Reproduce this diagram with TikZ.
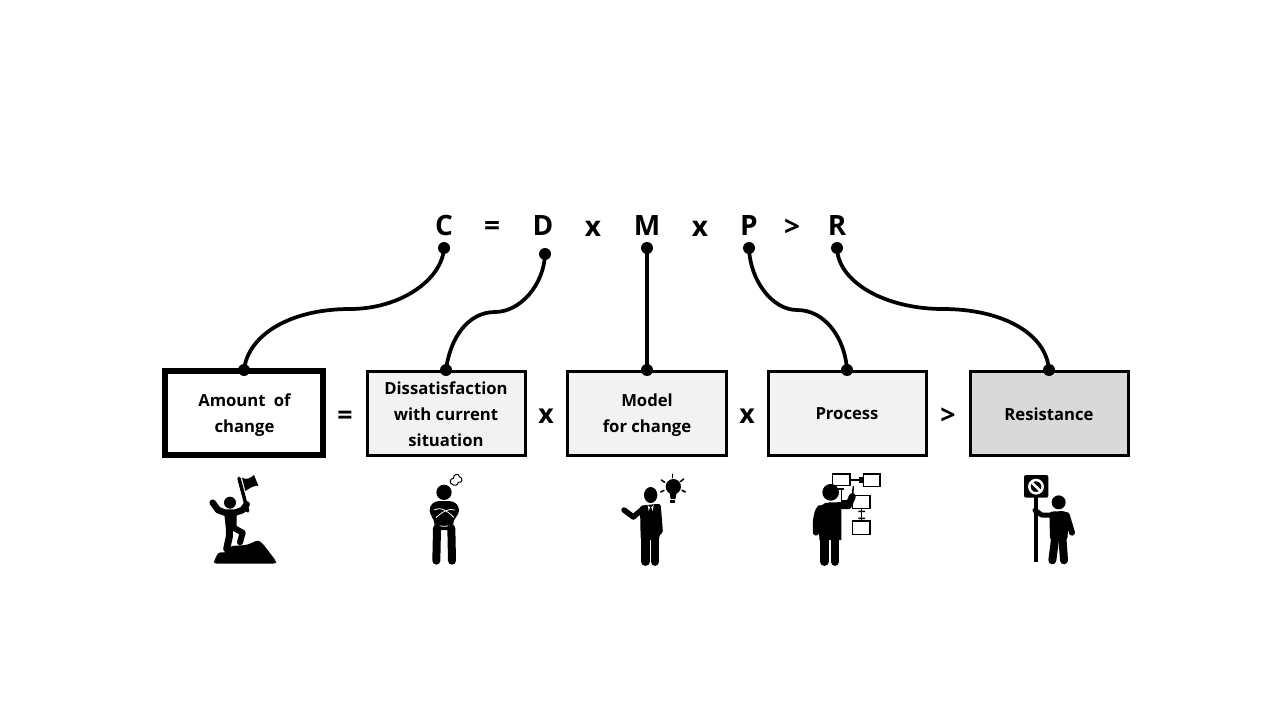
\documentclass[tikz,border=0pt]{standalone}
\usepackage{fontspec}
\setmainfont{Open Sans}
\begin{document}
\begin{tikzpicture}[x=0.75pt,y=-0.75pt,
  eqsym/.style={font=\fontsize{21}{24}\selectfont\bfseries,inner sep=0pt},
  opsym/.style={font=\fontsize{20}{24}\selectfont\bfseries,inner sep=0pt},
  lab/.style={font=\fontsize{12.5}{19.5}\selectfont\bfseries,align=center,inner sep=0pt},
  boxn/.style={draw=black,line width=2.3pt,minimum width=119pt,minimum height=63pt,inner sep=0pt,anchor=center},
  dotn/.style={circle,fill=black,inner sep=0pt,minimum size=9pt},
  conn/.style={line width=2.8pt,line cap=round},
  blk/.style={line width=#1*0.75pt,line cap=round,line join=round},
  blk/.default=7,
  ol/.style={draw=black,line width=0.9pt,fill=white}]
\useasboundingbox (0,0) rectangle (1280,720);
\fill[white] (0,0) rectangle (1280,720);
% boxes
\node[boxn,line width=4.5pt,fill=white,minimum width=118.5pt] (bA) at (244,413) {};
\node[boxn,fill=black!5] (bD) at (446.5,413.5) {};
\node[boxn,fill=black!5] (bM) at (647,413.5) {};
\node[boxn,fill=black!5] (bP) at (847.5,413.5) {};
\node[boxn,fill=black!15] (bR) at (1049.5,413.5) {};
\node[lab] (tA) at (244.5,415) {Amount\hspace{3pt} of\\change};
\node[lab] (tD) at (446,414) {Dissatisfaction\\with current\\situation};
\node[lab] (tM) at (647,415) {Model\\for change};
\node[lab] (tP) at (847,414) {Process};
\node[lab] (tR) at (1049,414) {Resistance};
% top formula
\node[eqsym] (C) at (444,225.5) {C};
\node[eqsym] (eq) at (492,229) {=};
\node[eqsym] (D) at (543,225.5) {D};
\node[eqsym] (x1) at (593,228.5) {x};
\node[eqsym] (M) at (647,225.5) {M};
\node[eqsym] (x2) at (700,228.5) {x};
\node[eqsym] (P) at (749,225.5) {P};
\node[eqsym] (gt) at (792,228) {>};
\node[eqsym] (R) at (837,225.5) {R};
% operators between boxes
\node[opsym] (o1) at (345,418) {=};
\node[opsym] (o2) at (546,416) {x};
\node[opsym] (o3) at (747,416) {x};
\node[opsym] (o4) at (948,416) {>};
% dots
\node[dotn] (dC) at (444,248) {};
\node[dotn] (dD) at (545,254) {};
\node[dotn] (dM) at (647,248) {};
\node[dotn] (dP) at (749,248) {};
\node[dotn] (dR) at (837,248) {};
\node[dotn] (dA) at (244,370) {};
\node[dotn] (dB) at (446,370) {};
\node[dotn] (dN) at (647,370) {};
\node[dotn] (dQ) at (847,370) {};
\node[dotn] (dS) at (1049,370) {};
% connectors
\draw[conn] (dC.center) .. controls (442,280) and (400,309) .. (350,309) .. controls (290,309) and (248,335) .. (dA.center);
\draw[conn] (dD.center) .. controls (544,285) and (520,312) .. (495,312) .. controls (468,312) and (450,338) .. (dB.center);
\draw[conn] (dM.center) -- (dN.center);
\draw[conn] (dP.center) .. controls (750,280) and (772,310) .. (797,310) .. controls (825,310) and (845,338) .. (dQ.center);
\draw[conn] (dR.center) .. controls (838,282) and (885,309) .. (943,309) .. controls (1000,309) and (1046,332) .. (dS.center);
% ---- icon 1: climber with flag
\begin{scope}[shift={(190,465)},scale=1/3]
 \fill[rounded corners=2pt] (72,296) -- (72,288) -- (85,262) -- (112,262) -- (122,243) -- (170,240) -- (205,225) -- (220,238) -- (258,288) -- (258,296) -- cycle;
 \fill (120,113) circle (18);
 \draw[blk=3.5] (147,40) -- (173,138);
 \fill (156,38) .. controls (170,46) and (180,40) .. (192,30) -- (205,62) .. controls (190,62) and (178,70) .. (166,78) -- cycle;
 \draw[blk=6.5] (68,113) -- (84,135) -- (105,143) -- (135,143) -- (158,135) -- (170,118);
 \fill[rounded corners=2pt] (102,138) -- (140,138) -- (140,195) -- (108,195) -- cycle;
 \draw[blk=7] (118,190) -- (118,215) -- (110,252);
 \draw[blk=6] (134,190) -- (158,203) -- (150,232);
\end{scope}
% ---- icon 2: man with arms crossed
\begin{scope}[shift={(190,465)},scale=1/3]
 \fill (762,82) circle (23);
 \fill[rounded corners=3pt] (735,108) -- (790,108) -- (808,125) -- (806,150) -- (790,163) -- (790,195) -- (733,195) -- (733,163) -- (720,150) -- (718,125) -- cycle;
 \draw[white,line width=0.6pt] (732,135) .. controls (750,125) and (770,135) .. (792,158);
 \draw[white,line width=0.6pt] (795,135) .. controls (775,128) and (755,142) .. (738,158);
 \draw[white,line width=0.6pt] (735,180) .. controls (755,185) and (772,185) .. (790,180);
 \draw[blk=8] (741,190) -- (739,287);
 \draw[blk=8] (784,190) -- (786,287);
 \draw[ol,line width=0.75pt] (790,60) .. controls (775,55) and (780,40) .. (790,40) .. controls (790,25) and (808,25) .. (808,35) .. controls (820,38) and (818,55) .. (805,52) .. controls (802,62) and (795,62) .. (790,60) -- cycle;
\end{scope}
% ---- icon 3: man with idea
\begin{scope}[shift={(600,465)},scale=1/3]
 \fill (152,90) ellipse (20 and 24);
 \fill[rounded corners=2pt] (120,122) -- (182,116) -- (189,205) -- (178,207) -- (178,225) -- (122,225) -- cycle;
 \draw[blk=8.5] (136,215) -- (136,290);
 \draw[blk=8.5] (165,215) -- (165,290);
 \draw[blk=5.5] (72,135) -- (100,156) -- (128,132);
 \fill[white] (143,120) -- (150,127) -- (146,138) -- cycle (161,120) -- (154,127) -- (158,138) -- cycle;
 \fill (220,65) circle (23);
 \fill (208,78) -- (231,78) -- (226,102) -- (212,102) -- cycle;
 \fill (211,105) rectangle (226,113);
 \draw[blk=1.5] (218,28) -- (218,38);
 \draw[blk=1.5] (184,45) -- (194,52);
 \draw[blk=1.5] (251,42) -- (241,50);
 \draw[blk=1.5] (182,81) -- (192,76);
 \draw[blk=1.5] (256,81) -- (246,76);
\end{scope}
% ---- icon 4: man with flow chart
\begin{scope}[shift={(600,465)},scale=1/3]
 \draw[ol] (697,27) rectangle (750,62);
 \draw[ol] (790,27) rectangle (840,65);
 \draw[ol] (757,92) rectangle (810,130);
 \draw[ol] (757,168) rectangle (810,208);
 \draw[line width=0.9pt] (752,45) -- (790,45);
 \fill (778,36) rectangle (788,54);
 \draw[line width=0.9pt] (785,132) -- (785,165);
 \fill (775,137) rectangle (795,141) (775,158) rectangle (795,162);
 \draw[line width=1.2pt] (724,70) -- (724,108) -- (745,108);
 \fill (715,68) rectangle (733,75);
 \fill (692,82) circle (25);
 \fill (658,225) -- (656,150) .. controls (650,125) and (670,112) .. (690,112) -- (724,112) -- (724,225) -- cycle;
 \draw[blk=6.5] (660,130) .. controls (650,145) and (648,160) .. (648,202);
 \draw[blk=8.5] (673,215) -- (673,290);
 \draw[blk=8.5] (705,215) -- (705,290);
 \draw[blk=7] (715,122) -- (745,122) -- (757,95);
 \draw[blk=1.5] (757,95) -- (760,65);
\end{scope}
% ---- icon 5: man with stop sign
\begin{scope}[shift={(1000,465)},scale=1/3]
 \draw[line width=2.3pt] (108,95) -- (108,292);
 \fill[rounded corners=1.5pt] (72,30) rectangle (145,98);
 \draw[white,line width=1.9pt] (108,65) circle (20);
 \draw[white,line width=1.9pt] (94,51) -- (122,79);
 \fill (176,112) circle (21);
 \fill[rounded corners=2pt] (148,140) -- (195,138) -- (207,150) -- (202,225) -- (150,225) -- cycle;
 \draw[blk=5] (105,136) -- (125,150) -- (160,150);
 \draw[blk=6] (200,150) -- (216,203);
 \draw[blk=8] (166,215) -- (157,286);
 \draw[blk=8] (187,215) -- (192,286);
\end{scope}
\end{tikzpicture}
\end{document}
